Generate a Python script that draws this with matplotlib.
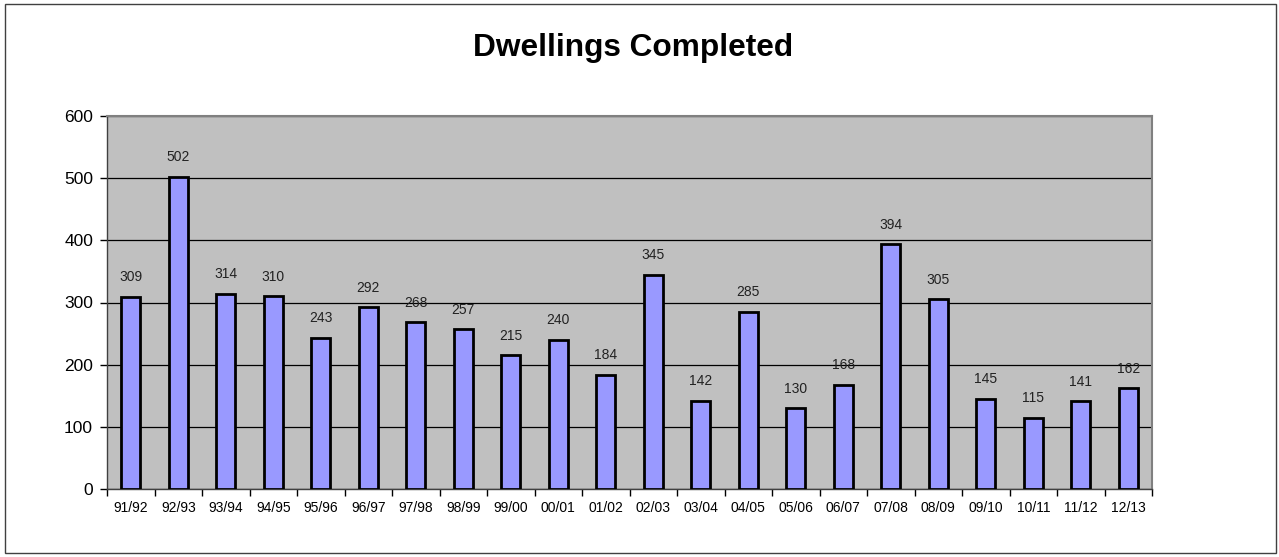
import matplotlib
matplotlib.use('Agg')
import matplotlib.pyplot as plt
import numpy as np

plt.rcParams['font.family'] = ['Liberation Sans', 'DejaVu Sans']

# Dwellings completed per financial year
years = ['91/92', '92/93', '93/94', '94/95', '95/96', '96/97', '97/98', '98/99',
         '99/00', '00/01', '01/02', '02/03', '03/04', '04/05', '05/06', '06/07',
         '07/08', '08/09', '09/10', '10/11', '11/12', '12/13']
completed = [309, 502, 314, 310, 243, 292, 268, 257, 215, 240, 184, 345,
             142, 285, 130, 168, 394, 305, 145, 115, 141, 162]

fig = plt.figure(figsize=(12.79, 5.57), dpi=100)
fig.patch.set_facecolor('white')
# outer chart border
fig.add_artist(plt.Rectangle((5 / 1279, 4 / 557), 1271 / 1279, 549 / 557,
                             transform=fig.transFigure, fill=False,
                             edgecolor='#404040', linewidth=1))

ax = fig.add_axes([107 / 1279, 1 - 489 / 557, (1152 - 107) / 1279, (489 - 116) / 557])
ax.set_facecolor('#C0C0C0')

x = np.arange(len(years))
ax.set_axisbelow(True)
ax.yaxis.grid(True, color='black', linewidth=0.9)
ax.bar(x, completed, width=0.41, color='#9999FF', edgecolor='black', linewidth=2, zorder=3)

for xi, v in zip(x, completed):
    ax.annotate(str(v), (xi, v), xytext=(0, 9), textcoords='offset points',
                ha='center', va='bottom', fontsize=10, color='#222222')

ax.set_xlim(-0.5, len(years) - 0.5)
ax.set_ylim(0, 600)
ax.set_yticks(range(0, 601, 100))
ax.tick_params(axis='y', labelsize=12.5, length=5, width=1, direction='out', pad=5)

# category labels centred under bars, tick marks between categories
ax.set_xticks(x)
ax.set_xticklabels(years, fontsize=10)
ax.tick_params(axis='x', length=0, pad=9)
ax.set_xticks(np.arange(-0.5, len(years)), minor=True)
ax.tick_params(axis='x', which='minor', length=5, width=1, direction='out')

for side in ['top', 'right']:
    ax.spines[side].set_color('#808080')
    ax.spines[side].set_linewidth(1.5)
for side in ['left', 'bottom']:
    ax.spines[side].set_color('#404040')
    ax.spines[side].set_linewidth(1)

fig.text(633 / 1279, 1 - 56 / 557, 'Dwellings Completed', ha='center', va='baseline',
         fontsize=22.8, fontweight='bold')

fig.savefig('out.png', dpi=100)
